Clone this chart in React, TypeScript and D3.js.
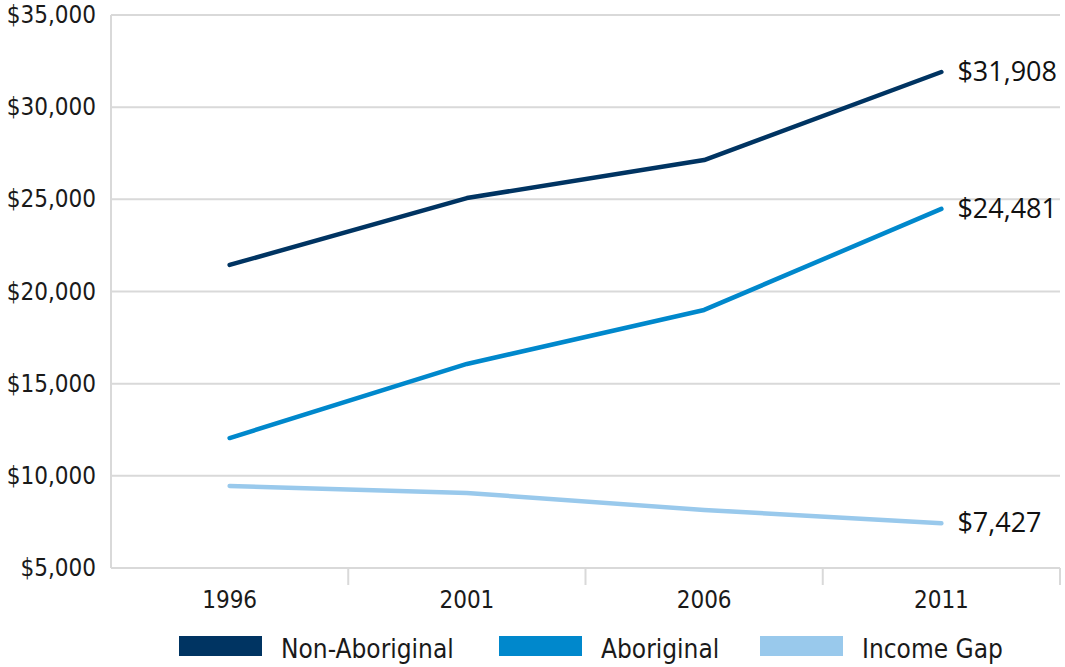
import React, { useEffect, useRef } from 'react'
import * as d3 from 'd3'

const years = ['1996', '2001', '2006', '2011']
const nonAboriginal = [21440, 25070, 27130, 31908]
const aboriginal = [12050, 16070, 19000, 24481]
const incomeGap = [9450, 9070, 8150, 7427]
const yTicks = [5000, 10000, 15000, 20000, 25000, 30000, 35000]
const endLabels = ['$31,908', '$24,481', '$7,427']

const seriesNames = ['Non-Aboriginal', 'Aboriginal', 'Income Gap']
const colors = ['#003462', '#0088cc', '#99c9ec']

const App = () => {
  const ref = useRef<SVGSVGElement>(null)

  useEffect(() => {
    const width = 1065
    const height = 667
    const margin = { top: 15, right: 5, bottom: 99, left: 111 }

    const svg = d3.select(ref.current)
    svg.selectAll('*').remove()

    const x = d3.scaleBand().domain(years).range([margin.left, width - margin.right])
    const y = d3.scaleLinear().domain([5000, 35000]).range([height - margin.bottom, margin.top])
    const fmt = d3.format('$,')
    const axisFont = '"DejaVu Sans Condensed", "DejaVu Sans", sans-serif'

    // gridlines
    svg.append('g')
      .selectAll('line')
      .data(yTicks)
      .join('line')
      .attr('x1', margin.left)
      .attr('x2', width - margin.right)
      .attr('y1', d => y(d))
      .attr('y2', d => y(d))
      .attr('stroke', '#d9d9d9')
      .attr('stroke-width', 2)

    // left axis line
    svg.append('line')
      .attr('x1', margin.left).attr('x2', margin.left)
      .attr('y1', y(35000)).attr('y2', y(5000))
      .attr('stroke', '#d9d9d9').attr('stroke-width', 2)

    // x ticks
    const tickXs = years.map(d => x(d) as number).concat([width - margin.right])
    svg.append('g')
      .selectAll('line')
      .data(tickXs.slice(1))
      .join('line')
      .attr('x1', d => d).attr('x2', d => d)
      .attr('y1', y(5000)).attr('y2', y(5000) + 17)
      .attr('stroke', '#d9d9d9').attr('stroke-width', 2)

    // y labels
    svg.append('g')
      .selectAll('text')
      .data(yTicks)
      .join('text')
      .attr('x', 96)
      .attr('y', d => y(d) + 8)
      .attr('text-anchor', 'end')
      .attr('font-family', axisFont)
      .attr('font-size', 24)
      .attr('fill', '#1a1a1a')
      .text(d => fmt(d))

    // x labels
    svg.append('g')
      .selectAll('text')
      .data(years)
      .join('text')
      .attr('x', d => (x(d) as number) + x.bandwidth() / 2)
      .attr('y', 608)
      .attr('text-anchor', 'middle')
      .attr('font-family', axisFont)
      .attr('font-size', 24)
      .attr('fill', '#1a1a1a')
      .text(d => d)

    const line = d3.line<number>()
      .x((d, i) => (x(years[i]) as number) + x.bandwidth() / 2)
      .y(d => y(d))

    const allSeries = [nonAboriginal, aboriginal, incomeGap]
    allSeries.forEach((s, i) => {
      svg.append('path')
        .datum(s)
        .attr('d', line)
        .attr('fill', 'none')
        .attr('stroke', colors[i])
        .attr('stroke-width', 4.5)
        .attr('stroke-linecap', 'round')
        .attr('stroke-linejoin', 'round')

      svg.append('text')
        .attr('x', (x('2011') as number) + x.bandwidth() / 2 + 16)
        .attr('y', y(s[3]) + 9)
        .attr('font-family', '"Open Sans", sans-serif')
        .attr('font-size', 27)
        .attr('fill', '#111')
        .text(endLabels[i])
    })

    // legend
    const legendX = [179, 499, 760]
    const legend = svg.append('g')
    seriesNames.forEach((name, i) => {
      legend.append('rect')
        .attr('x', legendX[i]).attr('y', 636)
        .attr('width', 83).attr('height', 20)
        .attr('fill', colors[i])
      legend.append('text')
        .attr('x', legendX[i] + 102)
        .attr('y', 658)
        .attr('font-family', axisFont)
        .attr('font-size', 26)
        .attr('fill', '#1a1a1a')
        .text(name)
    })
  }, [])

  return <svg ref={ref} width={1065} height={667} style={{ position: 'absolute', left: 0, top: 0 }} />
}

export default App
